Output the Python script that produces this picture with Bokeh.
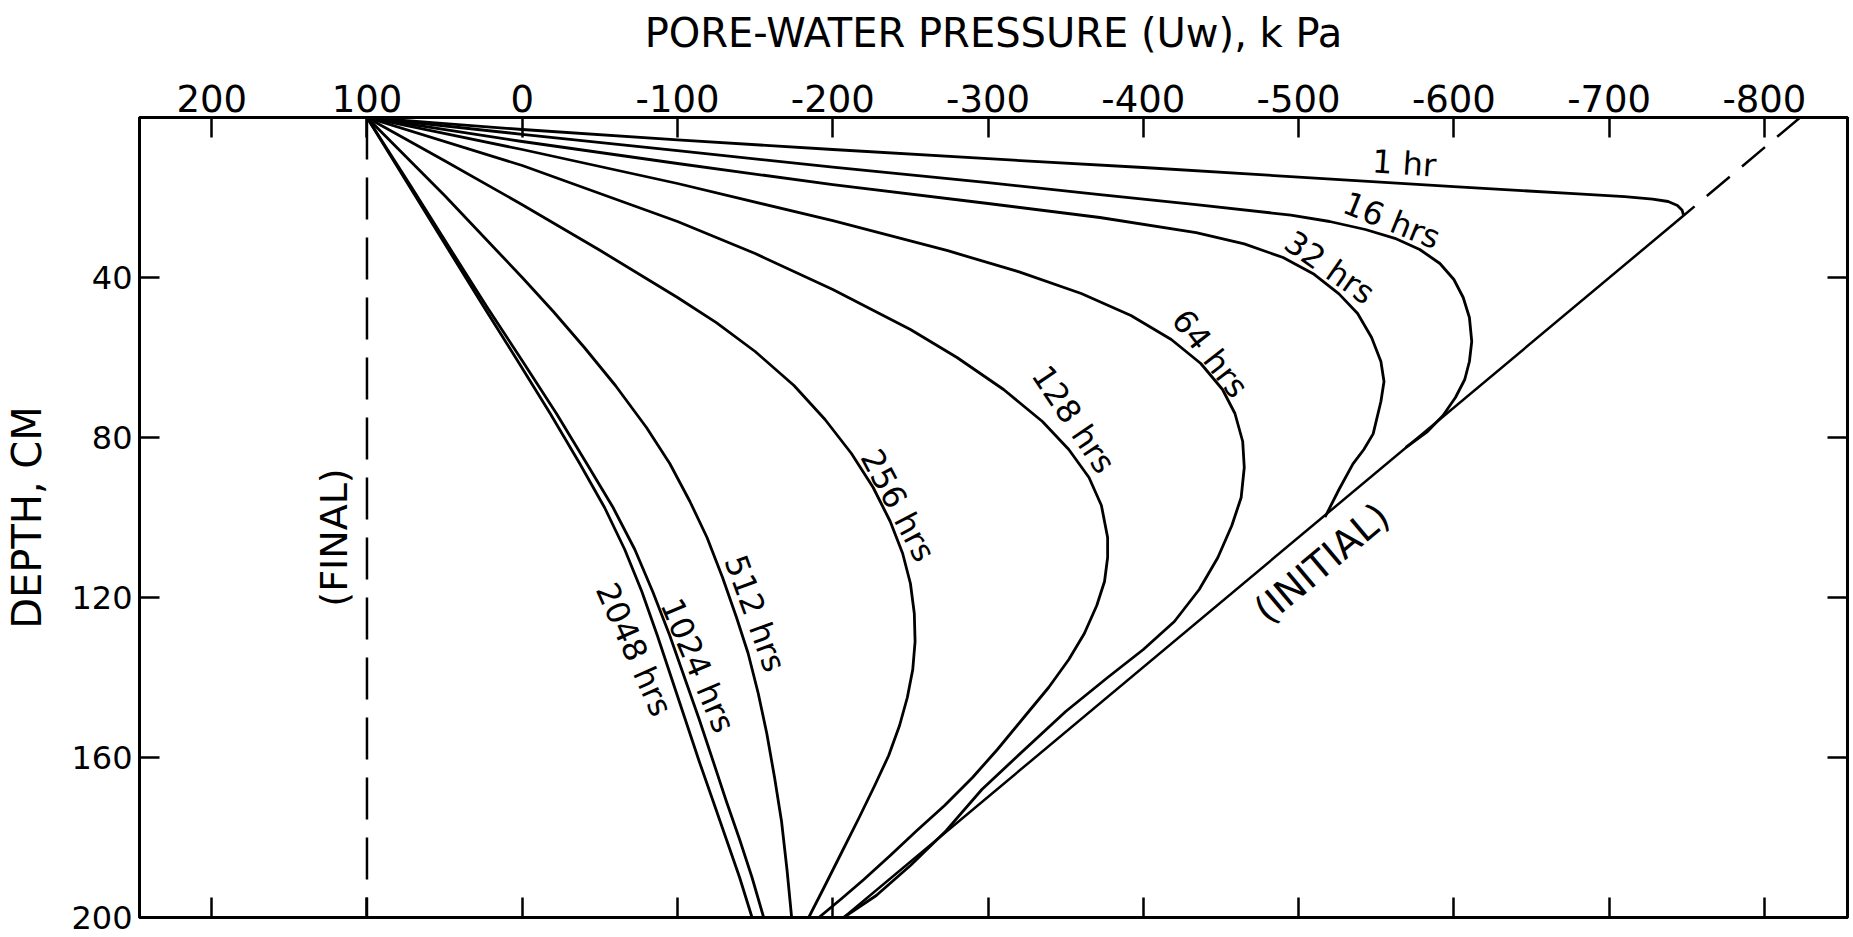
from bokeh.plotting import figure
from bokeh.models import Range1d, LinearAxis, FixedTicker, ColumnDataSource
from bokeh.embed import file_html
from bokeh.resources import INLINE
from bokeh.core.properties import value

# ---------------- data (pressure in kPa, depth in cm) ----------------
X_TICKS = [200, 100, 0, -100, -200, -300, -400, -500, -600, -700, -800]
X_TICK_LABELS = ["200", "100", "0", "-100", "-200", "-300", "-400", "-500", "-600", "-700", "-800"]
Y_TICKS = [40, 80, 120, 160, 200]
Y_TICK_LABELS = ["40", "80", "120", "160", "200"]

FINAL_P = [100, 100]
FINAL_D = [0, 200]

INITIAL_P = [-823, -748, -207]
INITIAL_D = [0, 24.5, 200]

P_1HR = [100, 60, 0, -100, -200, -300, -400, -500, -600, -680, -710, -728, -738, -744, -747, -748]
D_1HR = [0, 1.2, 3.0, 5.6, 8.0, 10.3, 12.5, 14.9, 17.3, 19.1, 19.8, 20.4, 21.0, 22.0, 23.2, 24.5]

P_16 = [100, 0, -100, -200, -300, -372, -434, -495, -520, -543, -562, -578, -591, -600, -606, -610, -611.5, -610,
        -607, -601, -593, -583, -569]
D_16 = [0, 4.2, 8.3, 12.4, 16.3, 19.3, 21.8, 24.4, 26.0, 28.0, 30.2, 33.0, 36.5, 40.5, 45.0, 50.0, 56.0, 61.0,
        65.5, 70.0, 74.5, 78.5, 82.5]

P_32 = [100, 0, -100, -200, -300, -372, -434, -465, -490, -510, -526, -538, -547, -553, -555, -553, -548, -542, -535, -526, -517]
D_32 = [0, 6.0, 11.5, 16.8, 21.5, 25.0, 28.8, 31.6, 35.0, 39.2, 44.1, 49.0, 55.0, 61.0, 66.0, 71.0, 79.1, 83.0, 86.6, 93.0, 99.9]

P_64 = [100, 0, -100, -200, -274, -320, -360, -392, -418, -437, -451, -459, -464, -465, -463, -457, -448, -436, -420,
        -400, -377, -350, -318, -296, -273, -250, -228, -207]
D_64 = [0, 8.0, 16.5, 25.8, 33.3, 38.6, 44.0, 49.5, 55.5, 61.5, 68.0, 74.0, 81.0, 87.5, 95.0, 102.0, 110.0, 118.0, 126.0,
        133.0, 140.0, 148.5, 160.0, 168.0, 178.3, 187.0, 194.5, 200]

P_128 = [100, 0, -100, -150, -200, -250, -280, -310, -335, -352, -365, -373, -377, -377, -375, -370, -362, -352, -339,
         -323, -306, -290, -272, -254, -237, -220, -205, -191]
D_128 = [0, 12.0, 26.0, 34.0, 43.0, 53.0, 60.0, 68.0, 76.0, 83.0, 90.0, 97.0, 105.0, 110.0, 116.0, 122.0, 129.0, 135.5, 142.5,
         150.0, 158.0, 165.0, 172.0, 178.3, 184.5, 190.5, 195.5, 200]

P_256 = [100, 50, 0, -50, -100, -125, -150, -175, -195, -212, -226, -237, -245, -250, -252.5, -253, -251.5, -248, -243,
         -236, -227, -217, -206, -195, -184.5]
D_256 = [0, 10.8, 21.8, 33.2, 45.0, 51.3, 58.5, 67.0, 75.5, 84.0, 92.5, 101.0, 109.0, 116.5, 124.0, 131.0, 138.0, 145.0, 152.0,
         159.5, 167.0, 175.0, 183.5, 192.0, 200]

P_512 = [100, 50, 0, -20, -40, -60, -80, -95, -108, -119, -129, -138, -145.5, -152, -157.5, -162.5, -167, -170.5, -173.5]
D_512 = [0, 19.5, 40, 48.5, 57.5, 67, 77.5, 86.5, 96, 105, 115, 125, 134, 144, 154, 165, 176, 188, 200]

P_1024 = [100, 72, 44.5, 22.5, 0, -22, -41.5, -58.5, -72.5, -84, -95, -104.5, -114, -123, -131.5, -140, -148, -155.5]
D_1024 = [0, 17, 34, 47.5, 60.8, 74, 86.5, 97.5, 108, 118.5, 129.5, 140, 150.5, 161, 171, 180.5, 190, 200]

P_2048 = [100, 73, 46, 24.5, 3, -18, -37, -53, -66, -77, -87, -96, -105, -114, -123, -131.5, -140, -148]
D_2048 = [0, 17, 34, 47.5, 60.8, 74, 86.5, 97.5, 108, 118.5, 129.5, 140, 150.5, 161, 171, 180.5, 190, 200]

CURVE_LABELS = ["1 hr", "16 hrs", "32 hrs", "64 hrs", "128 hrs", "256 hrs", "512 hrs", "1024 hrs", "2048 hrs"]
CURVE_LABEL_P = [-568, -560, -520, -443, -355, -242, -150, -113, -72]
CURVE_LABEL_D = [11.5, 25.75, 37.5, 59, 75.5, 97, 124, 137, 133]
CURVE_LABEL_ANGLE = [-4, -22, -35, -52, -56, -62, -70, -67, -66]

LINE_LABELS = ["(INITIAL)", "(FINAL)"]
LINE_LABEL_P = [-515, 121]
LINE_LABEL_D = [111.4, 105]
LINE_LABEL_ANGLE = [40, 90]

X_LABEL = "PORE-WATER PRESSURE (Uw), k Pa"
Y_LABEL = "DEPTH, CM"

# ---------------- figure ----------------
FONT = "DejaVu Sans"

p = figure(width=1853, height=937, output_backend="svg", toolbar_location=None,
           x_range=Range1d(246.5, -853.5), y_range=Range1d(200, 0),
           x_axis_location=None, y_axis_location=None,
           min_border_left=139, min_border_right=6, min_border_top=117, min_border_bottom=20,
           background_fill_color="white", border_fill_color="white")
p.outline_line_color = "black"
p.outline_line_width = 3
p.xgrid.visible = False
p.ygrid.visible = False


def style_axis(ax, labels_visible, size="34px"):
    ax.axis_line_width = 3
    ax.axis_line_color = "black"
    ax.major_tick_in = 20
    ax.major_tick_out = 0
    ax.major_tick_line_width = 2.5
    ax.major_tick_line_color = "black"
    ax.minor_tick_line_color = None
    ax.major_label_text_font = FONT
    if labels_visible:
        ax.major_label_text_color = "black"
        ax.major_label_text_font_size = size
        ax.major_label_standoff = 6
    else:
        ax.major_label_text_color = None
        ax.major_label_text_font_size = "1px"
        ax.major_label_standoff = 0


top = LinearAxis(ticker=FixedTicker(ticks=X_TICKS),
                 major_label_overrides={t: s for t, s in zip(X_TICKS, X_TICK_LABELS)},
                 axis_label=X_LABEL)
style_axis(top, True, "37px")
top.axis_label_text_font = FONT
top.axis_label_text_font_size = "40px"
top.axis_label_text_font_style = "normal"
top.axis_label_text_color = "black"
top.axis_label_standoff = 26
p.add_layout(top, "above")

bottom = LinearAxis(ticker=FixedTicker(ticks=X_TICKS))
style_axis(bottom, False)
p.add_layout(bottom, "below")

left = LinearAxis(ticker=FixedTicker(ticks=Y_TICKS),
                  major_label_overrides={t: s for t, s in zip(Y_TICKS, Y_TICK_LABELS)},
                  axis_label=Y_LABEL)
style_axis(left, True, "32px")
left.major_label_standoff = 7
left.axis_label_text_font = FONT
left.axis_label_text_font_size = "40px"
left.axis_label_text_font_style = "normal"
left.axis_label_text_color = "black"
left.axis_label_standoff = 18
p.add_layout(left, "left")

right = LinearAxis(ticker=FixedTicker(ticks=Y_TICKS))
style_axis(right, False)
p.add_layout(right, "right")

# reference lines
p.line(FINAL_P, FINAL_D, line_color="black", line_width=2.5, line_dash="42 18")
p.line(INITIAL_P[:2], INITIAL_D[:2], line_color="black", line_width=2.5, line_dash="30 16")
p.line(INITIAL_P[1:], INITIAL_D[1:], line_color="black", line_width=2.5)

# isochrones
for P, D in [(P_1HR, D_1HR), (P_16, D_16), (P_32, D_32), (P_64, D_64), (P_128, D_128),
             (P_256, D_256), (P_512, D_512), (P_1024, D_1024), (P_2048, D_2048)]:
    p.line(P, D, line_color="black", line_width=2.8, line_join="round")

curve_src = ColumnDataSource(dict(x=CURVE_LABEL_P, y=CURVE_LABEL_D, text=CURVE_LABELS, angle=CURVE_LABEL_ANGLE))
p.text(x="x", y="y", text="text", angle="angle", angle_units="deg", source=curve_src,
       text_font=value(FONT), text_font_size="32px", text_color="black",
       text_align="center", text_baseline="middle")

line_src = ColumnDataSource(dict(x=LINE_LABEL_P, y=LINE_LABEL_D, text=LINE_LABELS, angle=LINE_LABEL_ANGLE))
p.text(x="x", y="y", text="text", angle="angle", angle_units="deg", source=line_src,
       text_font=value(FONT), text_font_size="38px", text_color="black",
       text_align="center", text_baseline="middle")

open("out.html", "w").write(file_html(p, INLINE))
